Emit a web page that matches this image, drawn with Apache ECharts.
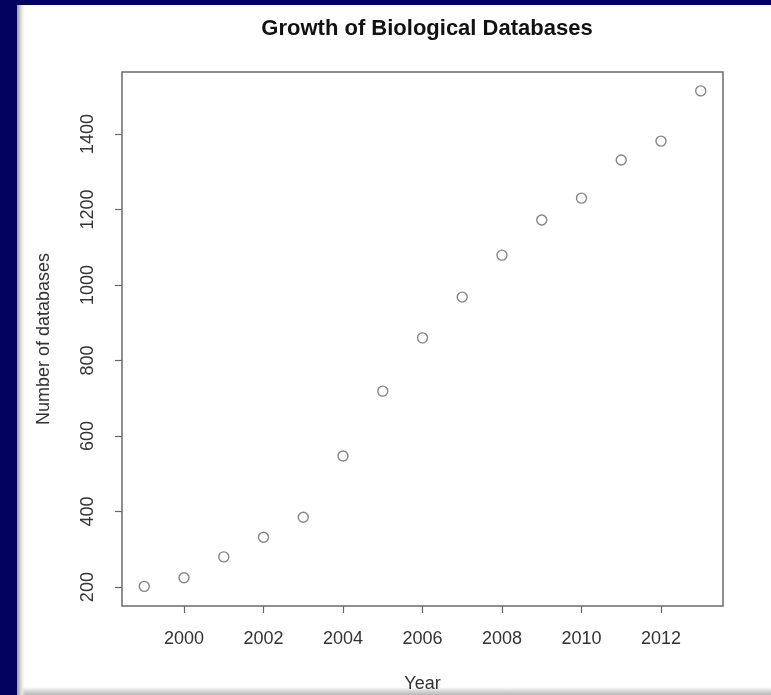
<!DOCTYPE html>
<html>
<head>
<meta charset="utf-8">
<script src="https://cdn.jsdelivr.net/npm/echarts@6/dist/echarts.min.js"></script>
<style>
html,body{margin:0;padding:0;width:771px;height:695px;overflow:hidden;background:#03035f;}
#panel{position:absolute;left:17px;top:5px;width:754px;height:690px;
 background:linear-gradient(to bottom,#ffffff 0,#ffffff 682px,#d8d8d8 686px,#b8b8b8 690px);}
#shade{position:absolute;left:17px;top:5px;width:8px;height:690px;
 background:linear-gradient(to right,#9a9aa0,#e8e8e8 60%,rgba(255,255,255,0));}
#chart{position:absolute;left:0;top:0;width:771px;height:695px;}
</style>
</head>
<body>
<div id="panel"></div>
<div id="shade"></div>
<div id="chart"></div>
<script>
const years = [1999,2000,2001,2002,2003,2004,2005,2006,2007,2008,2009,2010,2011,2012,2013];
const counts = [202,225,280,332,385,547,719,860,968,1079,1172,1230,1331,1381,1514];
const xTicks = [2000,2002,2004,2006,2008,2010,2012];
const yTicks = [200,400,600,800,1000,1200,1400];

const chart = echarts.init(document.getElementById('chart'), null, {renderer:'canvas'});
const font = 'Liberation Sans, Arial, Helvetica, sans-serif';
chart.setOption({
  backgroundColor: 'transparent',
  animation: false,
  title: {
    text: 'Growth of Biological Databases',
    left: 422, top: 13, textAlign: 'center',
    textStyle: {fontFamily: font, fontSize: 22, fontWeight: 'bold', color: '#111'}
  },
  grid: {left: 122, top: 72, width: 601, height: 534, show: true,
         outerBoundsMode: 'none', containLabel: false,
         borderColor: '#6a6a6a', borderWidth: 1.5, backgroundColor: 'transparent'},
  xAxis: {
    type: 'value', min: 1998.44, max: 2013.56,
    name: 'Year', nameLocation: 'middle', nameGap: 69,
    nameTextStyle: {fontFamily: font, fontSize: 18, color: '#333'},
    axisLine: {show: false},
    splitLine: {show: false},
    axisTick: {show: true, inside: false, length: 7, customValues: xTicks,
               lineStyle: {color: '#666', width: 1.2}},
    axisLabel: {show: true, customValues: xTicks, margin: 24,
                fontFamily: font, fontSize: 18, color: '#333',
                formatter: v => String(v)}
  },
  yAxis: {
    type: 'value', min: 150, max: 1564,
    name: 'Number of databases', nameLocation: 'middle', nameGap: 69, nameRotate: 90,
    nameTextStyle: {fontFamily: font, fontSize: 18, color: '#333'},
    axisLine: {show: false},
    splitLine: {show: false},
    axisTick: {show: true, inside: false, length: 7, customValues: yTicks,
               lineStyle: {color: '#666', width: 1.2}},
    axisLabel: {show: true, customValues: yTicks, rotate: 90, margin: 25,
                align: 'center', verticalAlign: 'bottom',
                fontFamily: font, fontSize: 18, color: '#333',
                formatter: v => String(v)}
  },
  series: [{
    type: 'scatter',
    data: years.map((y, i) => [y, counts[i]]),
    symbol: 'circle', symbolSize: 10,
    itemStyle: {color: 'rgba(255,255,255,0)', borderColor: '#666', borderWidth: 1.4}
  }]
});
</script>
</body>
</html>
